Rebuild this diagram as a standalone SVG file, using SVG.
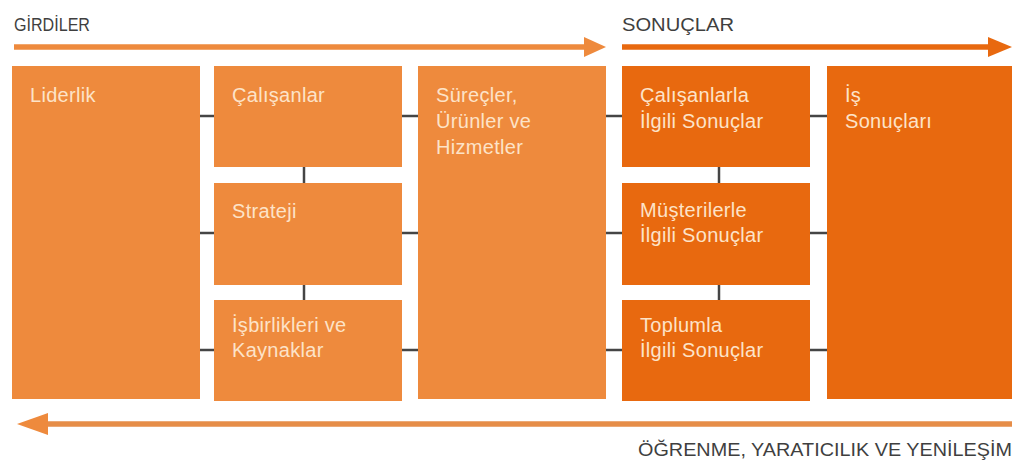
<svg xmlns="http://www.w3.org/2000/svg" width="1019" height="467" viewBox="0 0 1019 467">
<style>
.lt{fill:#ee8a3d}
.dk{fill:#e8690f}
.bt{font-family:"Liberation Sans",Arial,sans-serif;font-size:20px;letter-spacing:0.3px;fill:#fde3c8}
.hd{font-family:"Liberation Sans",Arial,sans-serif;font-size:18px;fill:#3f3f3f}
.cn{stroke:#454545;stroke-width:2.5;fill:none}
</style>
<rect width="1019" height="467" fill="#ffffff"/>
<g id="arrows">
<line x1="14" y1="47" x2="588" y2="47" stroke="#ee8a3d" stroke-width="5.5"/>
<polygon points="584,37 606,47 584,57" fill="#ee8a3d"/>
<line x1="622" y1="47" x2="992" y2="47" stroke="#e8690f" stroke-width="5.5"/>
<polygon points="988,37 1012,47 988,57" fill="#e8690f"/>
<line x1="40" y1="424" x2="1012" y2="424" stroke="#e68d48" stroke-width="5.5"/>
<polygon points="48,413 17,424 48,435" fill="#ee8a3d"/>
</g>
<g id="labels">
<text class="hd" x="14" y="31" textLength="76" lengthAdjust="spacingAndGlyphs">GİRDİLER</text>
<text class="hd" x="622" y="31" textLength="112" lengthAdjust="spacingAndGlyphs">SONUÇLAR</text>
<text class="hd" x="638" y="456" textLength="374" lengthAdjust="spacingAndGlyphs">ÖĞRENME, YARATICILIK VE YENİLEŞİM</text>
</g>
<g id="connectors">
<line class="cn" x1="200" y1="116" x2="214" y2="116"/>
<line class="cn" x1="200" y1="233" x2="214" y2="233"/>
<line class="cn" x1="200" y1="350" x2="214" y2="350"/>
<line class="cn" x1="402" y1="116" x2="418" y2="116"/>
<line class="cn" x1="402" y1="233" x2="418" y2="233"/>
<line class="cn" x1="402" y1="350" x2="418" y2="350"/>
<line class="cn" x1="606" y1="116" x2="622" y2="116"/>
<line class="cn" x1="606" y1="233" x2="622" y2="233"/>
<line class="cn" x1="606" y1="350" x2="622" y2="350"/>
<line class="cn" x1="810" y1="116" x2="827" y2="116"/>
<line class="cn" x1="810" y1="233" x2="827" y2="233"/>
<line class="cn" x1="810" y1="350" x2="827" y2="350"/>
<line class="cn" x1="304" y1="167" x2="304" y2="183"/>
<line class="cn" x1="304" y1="285" x2="304" y2="300"/>
<line class="cn" x1="719" y1="167" x2="719" y2="183"/>
<line class="cn" x1="719" y1="285" x2="719" y2="300"/>
</g>
<g id="liderlik"><rect class="lt" x="12" y="66" width="188" height="333"/><text class="bt" x="30" y="102">Liderlik</text></g>
<g id="calisanlar"><rect class="lt" x="214" y="66" width="188" height="101"/><text class="bt" x="232" y="102">Çalışanlar</text></g>
<g id="strateji"><rect class="lt" x="214" y="183" width="188" height="102"/><text class="bt" x="232" y="218">Strateji</text></g>
<g id="isbirlikleri"><rect class="lt" x="214" y="300" width="188" height="101"/><text class="bt" x="232" y="332">İşbirlikleri ve</text><text class="bt" x="232" y="357">Kaynaklar</text></g>
<g id="surecler"><rect class="lt" x="418" y="66" width="188" height="333"/><text class="bt" x="436" y="102">Süreçler,</text><text class="bt" x="436" y="128">Ürünler ve</text><text class="bt" x="436" y="154">Hizmetler</text></g>
<g id="calisanlarla"><rect class="dk" x="622" y="66" width="188" height="101"/><text class="bt" x="640" y="102">Çalışanlarla</text><text class="bt" x="640" y="128">İlgili Sonuçlar</text></g>
<g id="musterilerle"><rect class="dk" x="622" y="183" width="188" height="102"/><text class="bt" x="640" y="217">Müşterilerle</text><text class="bt" x="640" y="242">İlgili Sonuçlar</text></g>
<g id="toplumla"><rect class="dk" x="622" y="300" width="188" height="101"/><text class="bt" x="640" y="332">Toplumla</text><text class="bt" x="640" y="357">İlgili Sonuçlar</text></g>
<g id="is-sonuclari"><rect class="dk" x="827" y="66" width="185" height="333"/><text class="bt" x="845" y="102">İş</text><text class="bt" x="845" y="128">Sonuçları</text></g>
</svg>
